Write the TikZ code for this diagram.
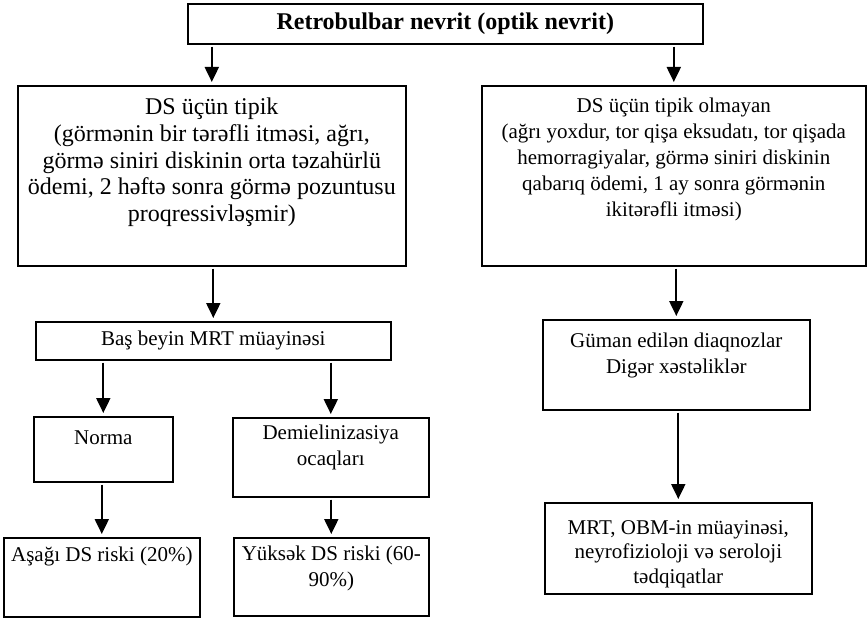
\documentclass[tikz,border=0pt]{standalone}
\usepackage{fontspec}
\setmainfont{Liberation Serif}
\usetikzlibrary{positioning,arrows.meta}

\begin{document}
\begin{tikzpicture}[x=1pt,y=-1pt,
    box/.style={draw, line width=1.6pt, inner sep=0pt, anchor=north west},
    txt/.style={align=center, inner sep=0pt, font=\fontsize{21}{26}\selectfont},
    arr/.style={line width=2pt, -{Triangle[length=15pt,width=14pt]}, shorten <=2pt, shorten >=3pt}]
    \useasboundingbox (0,0) rectangle (867,618);
    % boxes
    \node (top) [box, minimum width=515pt, minimum height=40pt] at (187,3) {};
    \node (dsl) [box, minimum width=388pt, minimum height=180pt] at (17,85) {};
    \node (dsr) [box, minimum width=384pt, minimum height=180pt] at (481,85) {};
    \node (mrt) [box, minimum width=355pt, minimum height=38pt] at (35,321) {};
    \node (norma) [box, minimum width=139pt, minimum height=65pt] at (33,416) {};
    \node (demie) [box, minimum width=196pt, minimum height=79pt] at (232,417) {};
    \node (asagi) [box, minimum width=196pt, minimum height=79pt] at (3,537) {};
    \node (yuksek) [box, minimum width=195pt, minimum height=78pt] at (233,537) {};
    \node (guman) [box, minimum width=267pt, minimum height=90pt] at (542,319) {};
    \node (tedqiq) [box, minimum width=267pt, minimum height=91pt] at (544,502) {};
    % texts
    \node (toptext) [txt, font=\fontsize{24}{26}\selectfont\bfseries] at (top.center)
        {Retrobulbar nevrit (optik nevrit)};
    \node (dsltext) [txt, font=\fontsize{24}{26.7}\selectfont, below=13pt of dsl.north]
        {DS üçün tipik\\(görmənin bir tərəfli itməsi, ağrı,\\görmə siniri diskinin orta təzahürlü\\ödemi, 2 həftə sonra görmə pozuntusu\\proqressivləşmir)};
    \node (dsrtext) [txt, below=13pt of dsr.north]
        {DS üçün tipik olmayan\\(ağrı yoxdur, tor qişa eksudatı, tor qişada\\hemorragiyalar, görmə siniri diskinin\\qabarıq ödemi, 1 ay sonra görmənin\\ikitərəfli itməsi)};
    \node (mrttext) [txt] at (mrt.center) {Baş beyin MRT müayinəsi};
    \node (normatext) [txt, below=15pt of norma.north] {Norma};
    \node (demietext) [txt, below=8pt of demie.north] {Demielinizasiya\\ocaqları};
    \node (asagitext) [txt, below=10pt of asagi.north] {Aşağı DS riski (20\%)};
    \node (yuksektext) [txt, below=9pt of yuksek.north] {Yüksək DS riski (60-\\90\%)};
    \node (gumantext) [txt, below=14pt of guman.north] {Güman edilən diaqnozlar\\Digər xəstəliklər};
    \node (tedqiqtext) [txt, font=\fontsize{21}{24.5}\selectfont, below=18pt of tedqiq.north]
        {MRT, OBM-in müayinəsi,\\neyrofizioloji və seroloji\\tədqiqatlar};
    % arrows
    \draw [arr] (top.south -| dsl.north) -- (dsl.north);
    \draw [arr] (top.south -| dsr.north) -- (dsr.north);
    \draw [arr] (dsl.south -| mrt.north) -- (mrt.north);
    \draw [arr] (mrt.south -| norma.north) -- (norma.north);
    \draw [arr] (mrt.south -| demie.north) -- (demie.north);
    \draw [arr] (norma.south -| asagi.north) -- (asagi.north);
    \draw [arr] (demie.south -| yuksek.north) -- (yuksek.north);
    \draw [arr] (dsr.south -| guman.north) -- (guman.north);
    \draw [arr] (guman.south -| tedqiq.north) -- (tedqiq.north);
\end{tikzpicture}
\end{document}
